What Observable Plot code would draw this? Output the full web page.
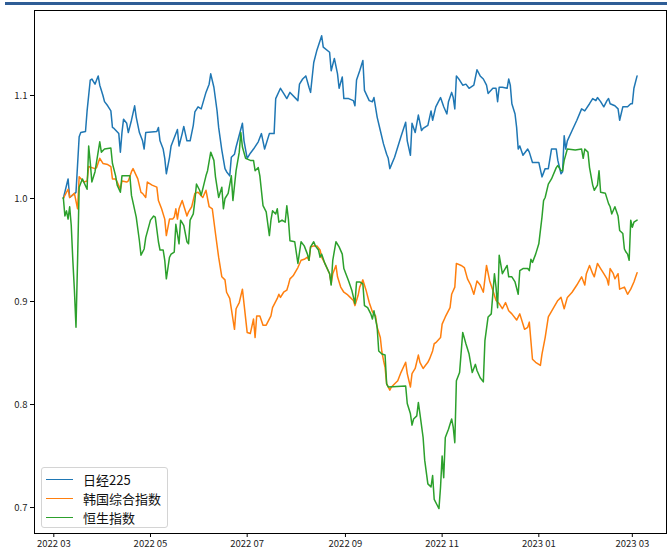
<!DOCTYPE html>
<html><head><meta charset="utf-8">
<script src="https://cdn.jsdelivr.net/npm/d3@7"></script>
<script src="https://cdn.jsdelivr.net/npm/@observablehq/plot@0.6"></script>
<style>
html,body{margin:0;padding:0;background:#fff;width:667px;height:553px;overflow:hidden;}
#wrap{position:relative;width:667px;height:553px;}
#chart{position:absolute;left:0;top:0;}
#topbar{position:absolute;left:5px;top:2px;width:662px;height:3px;background:#2e5d96;}
#legend{position:absolute;left:41px;top:467px;width:127px;height:61px;border:1px solid #d4d4d4;border-radius:3px;background:rgba(255,255,255,0.85);box-sizing:border-box;font-family:"Noto Sans CJK SC",sans-serif;font-size:13px;color:#111;}
.row{position:absolute;left:4px;height:18px;display:flex;align-items:center;white-space:nowrap;}
.sw{width:27px;height:0;border-top:1.8px solid;margin-right:10px;}
</style></head><body>
<div id="wrap"><div id="chart"></div><div id="topbar"></div><div id="legend"></div></div>
<script>
const seriesNames = ["日经225", "韩国综合指数", "恒生指数"];
const seriesColors = ["#1f77b4", "#ff7f0e", "#2ca02c"];
const xTickDates = ["2022-03-01","2022-05-01","2022-07-01","2022-09-01","2022-11-01","2023-01-01","2023-03-01"];
const xTickLabels = ["2022 03","2022 05","2022 07","2022 09","2022 11","2023 01","2023 03"];
const yTicks = [0.7, 0.8, 0.9, 1.0, 1.1];

const nikkei = [["2022-03-07",1.000],["2022-03-10",1.019],["2022-03-11",1.001],["2022-03-15",1.006],["2022-03-17",1.060],["2022-03-18",1.064],["2022-03-21",1.065],["2022-03-22",1.085],["2022-03-24",1.115],["2022-03-25",1.116],["2022-03-27",1.111],["2022-03-28",1.115],["2022-03-29",1.119],["2022-03-30",1.110],["2022-04-01",1.100],["2022-04-02",1.094],["2022-04-04",1.090],["2022-04-06",1.085],["2022-04-07",1.069],["2022-04-08",1.068],["2022-04-11",1.063],["2022-04-12",1.045],["2022-04-13",1.064],["2022-04-14",1.077],["2022-04-16",1.073],["2022-04-17",1.064],["2022-04-19",1.076],["2022-04-21",1.090],["2022-04-22",1.079],["2022-04-24",1.064],["2022-04-26",1.056],["2022-04-27",1.048],["2022-04-28",1.064],["2022-05-05",1.065],["2022-05-06",1.069],["2022-05-07",1.056],["2022-05-09",1.048],["2022-05-10",1.039],["2022-05-11",1.024],["2022-05-13",1.040],["2022-05-14",1.051],["2022-05-18",1.067],["2022-05-19",1.051],["2022-05-21",1.063],["2022-05-22",1.070],["2022-05-24",1.056],["2022-05-26",1.056],["2022-05-28",1.071],["2022-05-29",1.084],["2022-05-31",1.089],["2022-06-02",1.087],["2022-06-05",1.103],["2022-06-07",1.111],["2022-06-08",1.121],["2022-06-10",1.108],["2022-06-12",1.085],["2022-06-13",1.069],["2022-06-15",1.047],["2022-06-17",1.029],["2022-06-18",1.026],["2022-06-20",1.022],["2022-06-21",1.040],["2022-06-23",1.043],["2022-06-24",1.050],["2022-06-28",1.073],["2022-06-29",1.056],["2022-07-01",1.039],["2022-07-03",1.044],["2022-07-05",1.048],["2022-07-08",1.055],["2022-07-10",1.063],["2022-07-12",1.048],["2022-07-15",1.063],["2022-07-18",1.063],["2022-07-19",1.097],["2022-07-22",1.107],["2022-07-24",1.102],["2022-07-26",1.097],["2022-07-28",1.103],["2022-08-02",1.095],["2022-08-03",1.111],["2022-08-05",1.116],["2022-08-07",1.119],["2022-08-09",1.108],["2022-08-10",1.103],["2022-08-12",1.132],["2022-08-14",1.144],["2022-08-17",1.158],["2022-08-18",1.147],["2022-08-22",1.142],["2022-08-23",1.124],["2022-08-25",1.136],["2022-08-27",1.121],["2022-08-28",1.107],["2022-08-30",1.118],["2022-08-31",1.097],["2022-09-03",1.097],["2022-09-06",1.095],["2022-09-07",1.090],["2022-09-08",1.115],["2022-09-10",1.124],["2022-09-12",1.134],["2022-09-13",1.105],["2022-09-16",1.095],["2022-09-18",1.094],["2022-09-19",1.098],["2022-09-21",1.079],["2022-09-23",1.066],["2022-09-25",1.053],["2022-09-27",1.043],["2022-09-28",1.039],["2022-09-29",1.029],["2022-10-02",1.040],["2022-10-04",1.050],["2022-10-06",1.060],["2022-10-09",1.074],["2022-10-10",1.056],["2022-10-12",1.042],["2022-10-13",1.073],["2022-10-15",1.064],["2022-10-17",1.081],["2022-10-19",1.066],["2022-10-20",1.068],["2022-10-23",1.071],["2022-10-25",1.085],["2022-10-26",1.076],["2022-10-28",1.089],["2022-10-30",1.095],["2022-10-31",1.098],["2022-11-02",1.089],["2022-11-04",1.082],["2022-11-05",1.094],["2022-11-07",1.103],["2022-11-08",1.098],["2022-11-09",1.087],["2022-11-10",1.119],["2022-11-12",1.115],["2022-11-14",1.110],["2022-11-16",1.111],["2022-11-18",1.107],["2022-11-21",1.110],["2022-11-23",1.125],["2022-11-25",1.119],["2022-11-27",1.116],["2022-11-29",1.110],["2022-11-30",1.102],["2022-12-03",1.107],["2022-12-05",1.107],["2022-12-06",1.094],["2022-12-07",1.108],["2022-12-09",1.108],["2022-12-12",1.107],["2022-12-13",1.116],["2022-12-14",1.110],["2022-12-15",1.092],["2022-12-17",1.082],["2022-12-18",1.069],["2022-12-19",1.048],["2022-12-20",1.051],["2022-12-22",1.042],["2022-12-25",1.048],["2022-12-26",1.045],["2022-12-28",1.035],["2023-01-01",1.035],["2023-01-03",1.021],["2023-01-05",1.029],["2023-01-07",1.029],["2023-01-09",1.048],["2023-01-12",1.048],["2023-01-13",1.037],["2023-01-15",1.024],["2023-01-16",1.026],["2023-01-17",1.061],["2023-01-18",1.048],["2023-01-19",1.056],["2023-01-22",1.066],["2023-01-25",1.076],["2023-01-28",1.087],["2023-01-30",1.085],["2023-02-02",1.092],["2023-02-04",1.097],["2023-02-06",1.095],["2023-02-07",1.098],["2023-02-09",1.094],["2023-02-11",1.089],["2023-02-13",1.095],["2023-02-14",1.097],["2023-02-15",1.092],["2023-02-18",1.090],["2023-02-20",1.087],["2023-02-21",1.076],["2023-02-23",1.089],["2023-02-26",1.089],["2023-02-28",1.092],["2023-03-01",1.092],["2023-03-02",1.107],["2023-03-04",1.119]];

const kospi = [["2022-03-07",1.000],["2022-03-10",1.009],["2022-03-11",1.001],["2022-03-14",1.005],["2022-03-16",0.990],["2022-03-17",1.021],["2022-03-20",1.016],["2022-03-22",1.017],["2022-03-23",1.031],["2022-03-25",1.030],["2022-03-27",1.029],["2022-03-28",1.030],["2022-03-30",1.039],["2022-04-01",1.034],["2022-04-04",1.033],["2022-04-06",1.031],["2022-04-07",1.019],["2022-04-09",1.019],["2022-04-10",1.016],["2022-04-12",1.009],["2022-04-13",1.017],["2022-04-16",1.016],["2022-04-17",1.017],["2022-04-19",1.026],["2022-04-20",1.029],["2022-04-23",1.019],["2022-04-25",1.006],["2022-04-26",1.005],["2022-04-28",1.001],["2022-04-29",1.016],["2022-05-02",1.013],["2022-05-05",1.011],["2022-05-06",0.998],["2022-05-08",0.990],["2022-05-10",0.980],["2022-05-11",0.964],["2022-05-13",0.980],["2022-05-15",0.980],["2022-05-16",0.982],["2022-05-17",0.990],["2022-05-18",0.980],["2022-05-19",0.990],["2022-05-21",0.998],["2022-05-22",0.993],["2022-05-24",0.983],["2022-05-25",0.987],["2022-05-27",0.992],["2022-05-29",1.005],["2022-05-31",1.006],["2022-06-03",1.001],["2022-06-05",1.008],["2022-06-07",0.992],["2022-06-09",0.990],["2022-06-11",0.966],["2022-06-13",0.943],["2022-06-15",0.924],["2022-06-17",0.921],["2022-06-18",0.909],["2022-06-20",0.903],["2022-06-23",0.873],["2022-06-24",0.893],["2022-06-26",0.899],["2022-06-28",0.912],["2022-06-29",0.898],["2022-07-01",0.870],["2022-07-03",0.869],["2022-07-05",0.883],["2022-07-06",0.865],["2022-07-07",0.886],["2022-07-09",0.886],["2022-07-11",0.877],["2022-07-13",0.877],["2022-07-16",0.886],["2022-07-17",0.894],["2022-07-20",0.903],["2022-07-21",0.907],["2022-07-22",0.904],["2022-07-24",0.909],["2022-07-26",0.911],["2022-07-27",0.916],["2022-07-28",0.922],["2022-07-30",0.925],["2022-08-02",0.933],["2022-08-04",0.940],["2022-08-06",0.941],["2022-08-08",0.943],["2022-08-09",0.940],["2022-08-10",0.953],["2022-08-12",0.954],["2022-08-14",0.954],["2022-08-16",0.950],["2022-08-17",0.943],["2022-08-19",0.937],["2022-08-22",0.927],["2022-08-23",0.917],["2022-08-24",0.927],["2022-08-26",0.935],["2022-08-27",0.924],["2022-08-29",0.914],["2022-08-31",0.909],["2022-09-02",0.907],["2022-09-04",0.904],["2022-09-06",0.901],["2022-09-07",0.896],["2022-09-09",0.906],["2022-09-10",0.914],["2022-09-12",0.921],["2022-09-14",0.911],["2022-09-16",0.899],["2022-09-18",0.890],["2022-09-20",0.886],["2022-09-21",0.875],["2022-09-23",0.865],["2022-09-24",0.851],["2022-09-25",0.843],["2022-09-26",0.836],["2022-09-27",0.820],["2022-09-29",0.814],["2022-09-30",0.817],["2022-10-04",0.823],["2022-10-06",0.831],["2022-10-09",0.841],["2022-10-10",0.830],["2022-10-12",0.817],["2022-10-13",0.830],["2022-10-15",0.835],["2022-10-17",0.848],["2022-10-18",0.841],["2022-10-20",0.835],["2022-10-23",0.841],["2022-10-24",0.844],["2022-10-26",0.852],["2022-10-27",0.859],["2022-10-28",0.860],["2022-10-31",0.865],["2022-11-01",0.878],["2022-11-03",0.885],["2022-11-06",0.894],["2022-11-07",0.907],["2022-11-09",0.914],["2022-11-10",0.937],["2022-11-13",0.935],["2022-11-15",0.933],["2022-11-17",0.922],["2022-11-19",0.916],["2022-11-21",0.907],["2022-11-23",0.920],["2022-11-25",0.916],["2022-11-27",0.909],["2022-11-29",0.935],["2022-12-01",0.920],["2022-12-03",0.911],["2022-12-05",0.901],["2022-12-07",0.898],["2022-12-09",0.893],["2022-12-11",0.899],["2022-12-13",0.891],["2022-12-15",0.888],["2022-12-18",0.882],["2022-12-20",0.888],["2022-12-23",0.873],["2022-12-25",0.875],["2022-12-26",0.880],["2022-12-28",0.844],["2022-12-30",0.841],["2023-01-02",0.838],["2023-01-03",0.849],["2023-01-05",0.865],["2023-01-07",0.885],["2023-01-10",0.893],["2023-01-13",0.901],["2023-01-15",0.904],["2023-01-17",0.893],["2023-01-19",0.904],["2023-01-22",0.909],["2023-01-25",0.916],["2023-01-28",0.924],["2023-01-30",0.916],["2023-01-31",0.927],["2023-02-02",0.935],["2023-02-04",0.927],["2023-02-05",0.924],["2023-02-07",0.937],["2023-02-09",0.932],["2023-02-11",0.927],["2023-02-13",0.922],["2023-02-14",0.916],["2023-02-15",0.932],["2023-02-17",0.927],["2023-02-18",0.922],["2023-02-20",0.927],["2023-02-21",0.912],["2023-02-24",0.914],["2023-02-26",0.907],["2023-02-28",0.912],["2023-03-02",0.919],["2023-03-04",0.928]];

const hangseng = [["2022-03-07",1.001],["2022-03-08",0.983],["2022-03-09",0.988],["2022-03-10",0.980],["2022-03-11",0.992],["2022-03-12",0.974],["2022-03-13",0.940],["2022-03-14",0.911],["2022-03-15",0.875],["2022-03-16",0.940],["2022-03-17",1.011],["2022-03-19",1.019],["2022-03-22",1.009],["2022-03-23",1.051],["2022-03-24",1.035],["2022-03-25",1.016],["2022-03-27",1.026],["2022-03-30",1.055],["2022-03-31",1.045],["2022-04-02",1.048],["2022-04-06",1.049],["2022-04-07",1.034],["2022-04-09",1.022],["2022-04-10",1.013],["2022-04-12",1.006],["2022-04-13",1.022],["2022-04-18",1.022],["2022-04-19",1.003],["2022-04-22",0.982],["2022-04-24",0.959],["2022-04-25",0.945],["2022-04-27",0.951],["2022-04-28",0.962],["2022-05-01",0.979],["2022-05-03",0.983],["2022-05-04",0.982],["2022-05-06",0.958],["2022-05-07",0.950],["2022-05-09",0.950],["2022-05-10",0.940],["2022-05-11",0.922],["2022-05-13",0.943],["2022-05-14",0.946],["2022-05-16",0.948],["2022-05-17",0.975],["2022-05-19",0.956],["2022-05-20",0.979],["2022-05-22",0.974],["2022-05-24",0.958],["2022-05-25",0.956],["2022-05-26",0.979],["2022-05-28",0.985],["2022-05-29",0.998],["2022-05-30",1.014],["2022-06-01",1.008],["2022-06-02",1.003],["2022-06-05",1.022],["2022-06-06",1.027],["2022-06-08",1.045],["2022-06-10",1.037],["2022-06-11",1.021],["2022-06-13",1.001],["2022-06-15",1.011],["2022-06-16",0.990],["2022-06-17",1.000],["2022-06-19",1.005],["2022-06-21",1.022],["2022-06-22",0.998],["2022-06-24",1.027],["2022-06-26",1.045],["2022-06-27",1.064],["2022-06-28",1.050],["2022-06-30",1.039],["2022-07-03",1.037],["2022-07-05",1.037],["2022-07-06",1.027],["2022-07-08",1.030],["2022-07-09",1.022],["2022-07-11",0.993],["2022-07-13",0.987],["2022-07-15",0.964],["2022-07-16",0.979],["2022-07-17",0.988],["2022-07-19",0.985],["2022-07-20",0.990],["2022-07-21",0.977],["2022-07-23",0.979],["2022-07-25",0.977],["2022-07-26",0.993],["2022-07-27",0.980],["2022-07-28",0.959],["2022-07-31",0.958],["2022-08-02",0.937],["2022-08-04",0.958],["2022-08-06",0.954],["2022-08-08",0.946],["2022-08-09",0.940],["2022-08-10",0.953],["2022-08-12",0.958],["2022-08-13",0.954],["2022-08-15",0.950],["2022-08-16",0.943],["2022-08-17",0.946],["2022-08-19",0.937],["2022-08-22",0.927],["2022-08-23",0.916],["2022-08-24",0.940],["2022-08-26",0.958],["2022-08-28",0.953],["2022-08-30",0.946],["2022-08-31",0.932],["2022-09-03",0.920],["2022-09-05",0.911],["2022-09-07",0.898],["2022-09-08",0.919],["2022-09-10",0.919],["2022-09-12",0.917],["2022-09-13",0.896],["2022-09-15",0.894],["2022-09-17",0.888],["2022-09-18",0.883],["2022-09-19",0.891],["2022-09-21",0.875],["2022-09-22",0.852],["2022-09-24",0.849],["2022-09-26",0.848],["2022-09-27",0.820],["2022-09-28",0.817],["2022-10-09",0.818],["2022-10-10",0.801],["2022-10-12",0.791],["2022-10-13",0.780],["2022-10-14",0.786],["2022-10-16",0.789],["2022-10-17",0.802],["2022-10-18",0.791],["2022-10-20",0.768],["2022-10-21",0.746],["2022-10-23",0.723],["2022-10-25",0.720],["2022-10-26",0.731],["2022-10-27",0.708],["2022-10-29",0.702],["2022-10-30",0.699],["2022-10-31",0.720],["2022-11-01",0.750],["2022-11-02",0.729],["2022-11-03",0.768],["2022-11-05",0.776],["2022-11-07",0.786],["2022-11-08",0.778],["2022-11-09",0.763],["2022-11-10",0.823],["2022-11-12",0.831],["2022-11-14",0.870],["2022-11-16",0.859],["2022-11-18",0.849],["2022-11-20",0.831],["2022-11-22",0.839],["2022-11-23",0.833],["2022-11-25",0.826],["2022-11-27",0.822],["2022-11-28",0.862],["2022-11-30",0.885],["2022-12-02",0.888],["2022-12-04",0.927],["2022-12-05",0.914],["2022-12-06",0.894],["2022-12-07",0.945],["2022-12-09",0.927],["2022-12-12",0.935],["2022-12-13",0.924],["2022-12-15",0.924],["2022-12-17",0.919],["2022-12-19",0.907],["2022-12-20",0.930],["2022-12-22",0.932],["2022-12-25",0.932],["2022-12-26",0.930],["2022-12-27",0.941],["2022-12-28",0.938],["2022-12-30",0.946],["2023-01-01",0.956],["2023-01-03",0.982],["2023-01-04",0.998],["2023-01-05",1.001],["2023-01-07",1.014],["2023-01-09",1.019],["2023-01-12",1.030],["2023-01-13",1.032],["2023-01-15",1.027],["2023-01-16",1.027],["2023-01-17",1.037],["2023-01-19",1.048],["2023-01-24",1.047],["2023-01-28",1.048],["2023-01-29",1.039],["2023-01-30",1.048],["2023-02-01",1.045],["2023-02-02",1.030],["2023-02-04",1.013],["2023-02-05",1.008],["2023-02-07",1.013],["2023-02-08",1.027],["2023-02-09",1.006],["2023-02-12",1.005],["2023-02-14",0.995],["2023-02-15",0.992],["2023-02-16",0.985],["2023-02-18",0.992],["2023-02-20",0.983],["2023-02-21",0.969],["2023-02-23",0.966],["2023-02-24",0.951],["2023-02-25",0.948],["2023-02-26",0.946],["2023-02-27",0.940],["2023-02-28",0.979],["2023-03-01",0.972],["2023-03-02",0.977],["2023-03-04",0.979]];

const seriesData = [nikkei, kospi, hangseng];
const parse = d3.utcParse("%Y-%m-%d");
const tickLabelOf = new Map(xTickDates.map((d, i) => [+parse(d), xTickLabels[i]]));

const chart = Plot.plot({
  width: 667,
  height: 553,
  marginLeft: 34,
  marginRight: 1,
  marginTop: 10,
  marginBottom: 20,
  style: {fontFamily: '"Noto Sans CJK SC", sans-serif', fontSize: "9.5px", color: "#222", background: "transparent"},
  x: {type: "utc", domain: [new Date(Date.UTC(2022,1,16,19,40)), new Date(Date.UTC(2023,2,22,13,26))]},
  y: {domain: [0.6748, 1.1825]},
  marks: [
    ...seriesData.map((s, i) => Plot.line(s, {
      x: d => parse(d[0]), y: d => d[1],
      stroke: seriesColors[i], strokeWidth: 1.5, strokeLinejoin: "round"
    })),
    Plot.frame({stroke: "#000", strokeWidth: 1}),
    Plot.axisX({ticks: xTickDates.map(parse), tickFormat: d => tickLabelOf.get(+d), tickSize: 4, tickPadding: 3, label: null, stroke: "#000"}),
    Plot.axisY({ticks: yTicks, tickFormat: d3.format(".1f"), tickSize: 4, tickPadding: 3, label: null, stroke: "#000"})
  ]
});
document.getElementById("chart").appendChild(chart);

const legend = document.getElementById("legend");
const rowTops = [2, 21, 40];
seriesNames.forEach((name, i) => {
  const row = document.createElement("div");
  row.className = "row";
  row.style.top = rowTops[i] + "px";
  const sw = document.createElement("div");
  sw.className = "sw";
  sw.style.borderTopColor = seriesColors[i];
  const label = document.createElement("span");
  label.textContent = name;
  row.appendChild(sw);
  row.appendChild(label);
  legend.appendChild(row);
});
</script>
</body></html>
